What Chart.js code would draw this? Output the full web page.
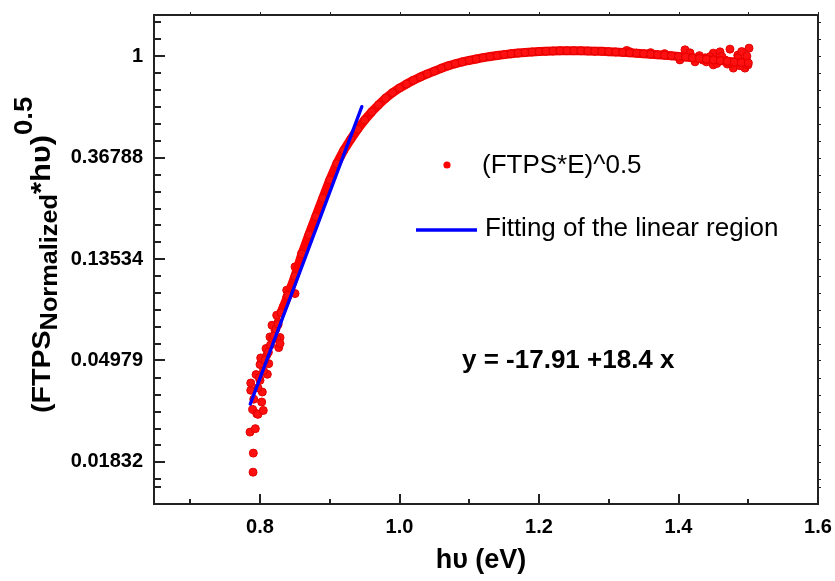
<!DOCTYPE html>
<html>
<head>
<meta charset="utf-8">
<title>FTPS</title>
<script src="https://cdn.jsdelivr.net/npm/chart.js@4.4.1/dist/chart.umd.min.js"></script>
<style>
  html, body { margin: 0; padding: 0; background: #ffffff; }
  #caixa { width: 835px; height: 581px; }
</style>
</head>
<body>
<div id="caixa"><canvas id="grafico" width="835" height="581"></canvas></div>
<script>
// DATA ----------------------------------------
// dense band of the measured curve (read off the picture)
var bandX = [0.83, 0.84, 0.85, 0.86, 0.87, 0.88, 0.89, 0.90, 0.91, 0.92,
  0.93, 0.94, 0.95, 0.96, 0.97, 0.98, 0.99, 1.00, 1.01, 1.02,
  1.03, 1.04, 1.05, 1.06, 1.07, 1.08, 1.09, 1.10, 1.11, 1.12,
  1.13, 1.14, 1.15, 1.16, 1.17, 1.18, 1.19, 1.20, 1.21, 1.22,
  1.23, 1.24, 1.25, 1.26, 1.27, 1.28, 1.29, 1.30, 1.31, 1.32,
  1.33, 1.34, 1.35, 1.36, 1.37, 1.38, 1.39, 1.40, 1.41, 1.42,
  1.43, 1.44, 1.45, 1.46, 1.47, 1.48, 1.49, 1.50];
var bandY = [0.0797, 0.0944, 0.1142, 0.1423, 0.1720, 0.2060, 0.2466, 0.2952, 0.3465, 0.3946,
  0.4404, 0.4868, 0.5326, 0.5769, 0.6188, 0.6603, 0.6977, 0.7298, 0.7596, 0.7882,
  0.8146, 0.8395, 0.8624, 0.8869, 0.9094, 0.9277, 0.9446, 0.9589, 0.9724, 0.9851,
  0.9960, 1.0060, 1.0151, 1.0233, 1.0305, 1.0367, 1.0419, 1.0460, 1.0492, 1.0513,
  1.0534, 1.0544, 1.0544, 1.0534, 1.0523, 1.0502, 1.0481, 1.0450, 1.0419, 1.0377,
  1.0336, 1.0294, 1.0243, 1.0192, 1.0141, 1.0090, 1.0030, 0.9970, 0.9910, 0.9841,
  0.9773, 0.9704, 0.9637, 0.9570, 0.9503, 0.9436, 0.9380, 0.9343];

// scattered points: noisy onset and noisy tail
var scatterX = [0.7900, 0.7904, 0.7857, 0.7933, 0.7895, 0.7953, 0.7971, 0.8047, 0.8024, 0.7867,
  0.7867, 0.8033, 0.7943, 0.8105, 0.8000, 0.8125, 0.8010, 0.8086, 0.8268, 0.8287,
  0.8143, 0.8215, 0.8096, 0.8000, 0.8239, 0.8287, 0.8172, 0.8258, 0.8050, 0.8070,
  0.8120, 0.8150, 0.8180, 0.8200, 0.8230, 0.8260, 0.7970, 0.7910, 0.7990, 0.8239,
  0.8334, 0.8383, 0.8502, 0.8383, 0.8502, 0.8598,
  1.3257, 1.3300, 1.3600, 1.3800, 1.4020, 1.4093, 1.4165, 1.4237, 1.4300, 1.4380,
  1.4400, 1.4499, 1.4499, 1.4550, 1.4595, 1.4667, 1.4700, 1.4738, 1.4786, 1.4850,
  1.4853, 1.4906, 1.4950, 1.4953, 1.4996, 1.5011, 1.4350, 1.4450, 1.4620, 1.4760,
  1.4880, 1.4980];
var scatterY = [0.01656, 0.01998, 0.02458, 0.02543, 0.03075, 0.02948, 0.02928, 0.03043, 0.03305, 0.03710,
  0.03989, 0.03648, 0.04333, 0.04346, 0.04783, 0.04827, 0.05105, 0.05601, 0.05653, 0.06243,
  0.06281, 0.06707, 0.05240, 0.04093, 0.06180, 0.05886, 0.07047, 0.07261, 0.04500, 0.05000,
  0.05400, 0.05800, 0.06200, 0.06350, 0.06800, 0.07100, 0.03800, 0.03400, 0.04200, 0.07780,
  0.08440, 0.09320, 0.09630, 0.09960, 0.12530, 0.14300,
  1.0580, 1.0450, 1.0350, 1.0250, 0.9637, 1.0640, 1.0330, 0.9455, 1.0050, 0.9830,
  0.9450, 1.0300, 0.9176, 0.9300, 1.0430, 0.9637, 0.9250, 1.0714, 0.8887, 1.0100,
  0.9833, 1.0460, 0.9600, 0.8887, 0.9176, 1.0820, 0.9620, 0.9950, 0.9980, 0.9300,
  0.9100, 1.0000];

// linear fit, drawn between its two visible ends
var fitX = [0.786, 0.946];
var fitY = [0.0324, 0.608];

// axes
var xTicks = [0.8, 1.0, 1.2, 1.4, 1.6];
var xTickLabels = ['0.8', '1.0', '1.2', '1.4', '1.6'];
var xMinorTicks = [0.7, 0.9, 1.1, 1.3, 1.5];
var yTicks = [0.01832, 0.04979, 0.13534, 0.36788, 1];
var yTickLabels = ['0.01832', '0.04979', '0.13534', '0.36788', '1'];
var yMinorTicks = [0.0143, 0.0155, 0.0216, 0.0254, 0.0300, 0.0354, 0.0418,
  0.0587, 0.0693, 0.0818, 0.0965, 0.1140,
  0.1596, 0.1884, 0.2222, 0.2623, 0.3096,
  0.4342, 0.5125, 0.6049, 0.7140, 0.8427,
  1.1803, 1.3932];

var FONT = '"Liberation Sans", Arial, sans-serif';

function pontos(xs, ys) {
  return xs.map(function (x, i) { return { x: x, y: ys[i] }; });
}

// FRAME, TICK MARKS, LEGEND, TEXTS ------------
var molduraPlugin = {
  id: 'moldura',
  afterDraw: function (chart) {
    var ctx = chart.ctx;
    var a = chart.chartArea;
    var sx = chart.scales.x;
    var sy = chart.scales.y;

    ctx.save();
    ctx.strokeStyle = '#222222';
    ctx.lineWidth = 2;
    ctx.beginPath();
    ctx.rect(a.left, a.top, a.right - a.left, a.bottom - a.top);
    xTicks.forEach(function (v) {
      var p = Math.round(sx.getPixelForValue(v));
      ctx.moveTo(p, a.bottom); ctx.lineTo(p, a.bottom - 10);
    });
    xMinorTicks.forEach(function (v) {
      var p = Math.round(sx.getPixelForValue(v));
      ctx.moveTo(p, a.bottom); ctx.lineTo(p, a.bottom - 5);
    });
    yTicks.forEach(function (v) {
      var p = Math.round(sy.getPixelForValue(v));
      ctx.moveTo(a.left, p); ctx.lineTo(a.left + 11, p);
    });
    yMinorTicks.forEach(function (v) {
      var p = Math.round(sy.getPixelForValue(v));
      ctx.moveTo(a.left, p); ctx.lineTo(a.left + 7, p);
    });
    ctx.stroke();

    // tiny marks on top and right axes
    ctx.lineWidth = 1;
    ctx.beginPath();
    xTicks.concat(xMinorTicks).forEach(function (v) {
      var p = Math.round(sx.getPixelForValue(v)) + 0.5;
      ctx.moveTo(p, a.top); ctx.lineTo(p, a.top - 3);
    });
    yTicks.concat(yMinorTicks).forEach(function (v) {
      var p = Math.round(sy.getPixelForValue(v)) + 0.5;
      ctx.moveTo(a.right, p); ctx.lineTo(a.right + 3, p);
    });
    ctx.stroke();

    // legend
    ctx.fillStyle = '#ff0000';
    ctx.beginPath();
    ctx.arc(447, 165, 3.6, 0, Math.PI * 2);
    ctx.fill();
    ctx.strokeStyle = '#0000ff';
    ctx.lineWidth = 3.3;
    ctx.beginPath();
    ctx.moveTo(416, 230); ctx.lineTo(477, 230);
    ctx.stroke();
    ctx.fillStyle = '#000000';
    ctx.textBaseline = 'middle';
    ctx.textAlign = 'left';
    ctx.font = '26px ' + FONT;
    ctx.fillText('(FTPS*E)^0.5', 482, 166);
    ctx.fillText('Fitting of the linear region', 485, 229);

    // fit equation
    ctx.font = 'bold 26px ' + FONT;
    ctx.fillText('y = -17.91 +18.4 x', 462, 361);

    // x axis title
    ctx.textAlign = 'center';
    ctx.font = 'bold 27px ' + FONT;
    ctx.fillText('h\u03c5 (eV)', 481, 561);

    // y axis title with subscript and superscript (text runs slightly wide)
    var partes = [
      { t: '(FTPS', s: 26, dy: 0 },
      { t: 'Normalized', s: 23, dy: 7 },
      { t: '*h\u03c5)', s: 28, dy: 0 },
      { t: '0.5', s: 25, dy: -18 }
    ];
    ctx.textAlign = 'left';
    ctx.translate(50, 413);
    ctx.rotate(-Math.PI / 2);
    ctx.scale(1.1, 1);
    ctx.textBaseline = 'alphabetic';
    var pos = 0;
    partes.forEach(function (p) {
      ctx.font = 'bold ' + p.s + 'px ' + FONT;
      ctx.fillText(p.t, pos, p.dy);
      pos += ctx.measureText(p.t).width;
    });
    ctx.restore();
  }
};

// CHART ---------------------------------------
var ctxGrafico = document.getElementById('grafico');

new Chart(ctxGrafico, {
  type: 'scatter',
  data: {
    datasets: [
      {
        label: 'Fitting of the linear region',
        data: pontos(fitX, fitY),
        showLine: true,
        borderColor: '#0000ff',
        borderWidth: 3.3,
        borderCapStyle: 'round',
        pointRadius: 0
      },
      {
        label: '(FTPS*E)^0.5',
        data: pontos(bandX, bandY),
        showLine: true,
        borderColor: '#ff0000',
        borderWidth: 9,
        borderJoinStyle: 'round',
        pointRadius: 4,
        pointBackgroundColor: '#ff1010',
        pointBorderColor: '#e00000',
        pointBorderWidth: 1
      },
      {
        label: '(FTPS*E)^0.5 scatter',
        data: pontos(scatterX, scatterY),
        pointRadius: 4,
        pointBackgroundColor: '#ff1010',
        pointBorderColor: '#e00000',
        pointBorderWidth: 1
      }
    ]
  },
  options: {
    responsive: false,
    animation: false,
    layout: { padding: { left: 0, top: 15, right: 17, bottom: 0 } },
    plugins: {
      legend: { display: false },
      tooltip: { enabled: false }
    },
    scales: {
      x: {
        type: 'linear',
        min: 0.648,
        max: 1.6,
        afterBuildTicks: function (s) {
          s.ticks = xTicks.map(function (v) { return { value: v }; });
        },
        afterFit: function (s) {
          s.height = 77;
          s.paddingLeft = 0;
          s.paddingRight = 0;
        },
        grid: { display: false, drawTicks: false },
        border: { display: false },
        ticks: {
          padding: 11,
          color: '#000000',
          autoSkip: false,
          maxRotation: 0,
          font: { family: FONT, size: 20, weight: 'bold' },
          callback: function (v, i) { return xTickLabels[i]; }
        }
      },
      y: {
        type: 'logarithmic',
        min: 0.0121,
        max: 1.5,
        afterBuildTicks: function (s) {
          s.ticks = yTicks.map(function (v) { return { value: v }; });
        },
        afterFit: function (s) {
          s.width = 154;
          s.paddingTop = 0;
          s.paddingBottom = 0;
        },
        grid: { display: false, drawTicks: false },
        border: { display: false },
        ticks: {
          padding: 11,
          color: '#000000',
          autoSkip: false,
          font: { family: FONT, size: 20, weight: 'bold' },
          callback: function (v, i) { return yTickLabels[i]; }
        }
      }
    }
  },
  plugins: [molduraPlugin]
});
</script>
</body>
</html>
